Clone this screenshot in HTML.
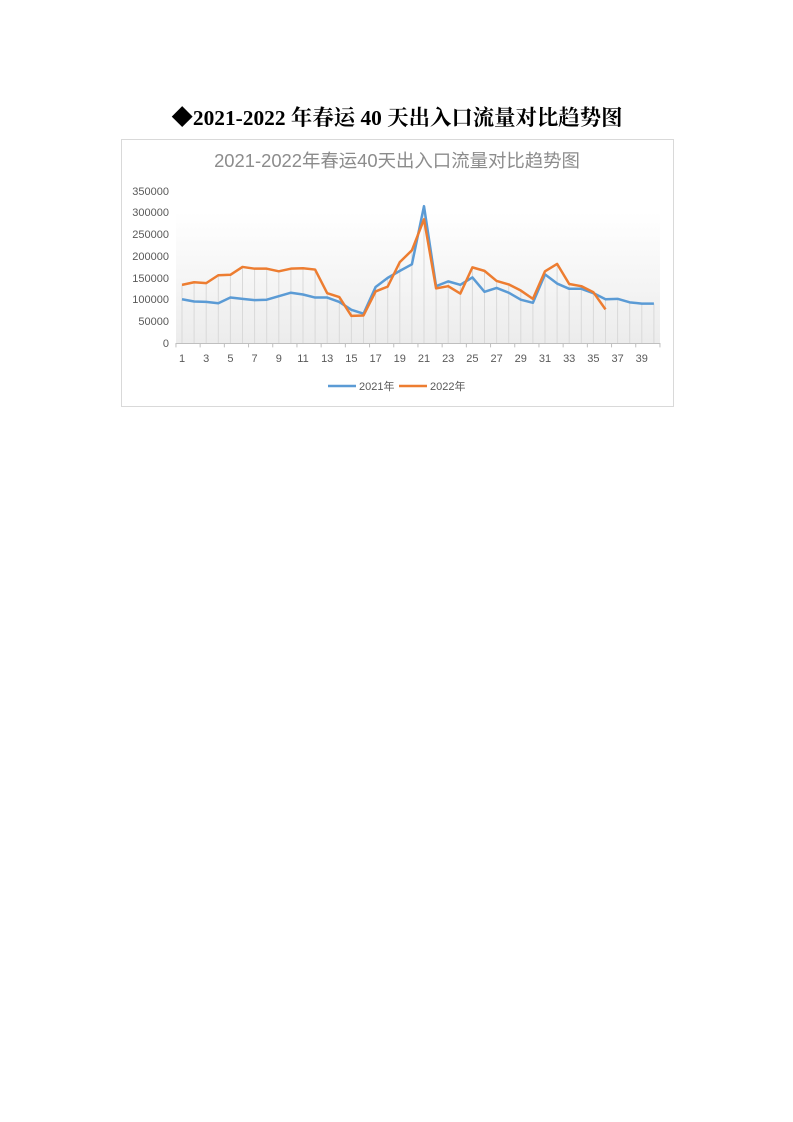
<!DOCTYPE html>
<html><head><meta charset="utf-8"><style>
body{margin:0;background:#fff;width:793px;height:1122px;overflow:hidden;}
</style></head><body>
<svg width="793" height="1122" xmlns="http://www.w3.org/2000/svg" style="position:absolute;left:0;top:0">
<defs><linearGradient id="g" x1="0" y1="0" x2="0" y2="1"><stop offset="0" stop-color="#ffffff"/><stop offset="1" stop-color="#ececec"/></linearGradient></defs>
<text x="397" y="125" text-anchor="middle" font-family="'Liberation Serif','Noto Serif CJK SC',serif" font-weight="bold" font-size="21.4" fill="#000">◆2021-2022 年春运 40 天出入口流量对比趋势图</text>
<rect x="121.5" y="139.5" width="552" height="267" fill="#fff" stroke="#d9d9d9"/>
<text x="397" y="167" text-anchor="middle" font-family="'Liberation Sans','Noto Sans CJK SC',sans-serif" font-size="18.4" fill="#8c8c8c">2021-2022年春运40天出入口流量对比趋势图</text>
<rect x="176" y="212" width="484" height="131" fill="url(#g)"/>
<g font-family="'Liberation Sans',sans-serif" font-size="11" fill="#595959" text-anchor="end">
<text x="169" y="195">350000</text><text x="169" y="216">300000</text><text x="169" y="238">250000</text><text x="169" y="260">200000</text><text x="169" y="282">150000</text><text x="169" y="303">100000</text><text x="169" y="325">50000</text><text x="169" y="347">0</text>
</g>
<g font-family="'Liberation Sans',sans-serif" font-size="11" fill="#595959" text-anchor="middle">
<text x="182" y="362">1</text><text x="206.2" y="362">3</text><text x="230.4" y="362">5</text><text x="254.6" y="362">7</text><text x="278.8" y="362">9</text><text x="303" y="362">11</text><text x="327.2" y="362">13</text><text x="351.4" y="362">15</text><text x="375.6" y="362">17</text><text x="399.8" y="362">19</text><text x="424" y="362">21</text><text x="448.2" y="362">23</text><text x="472.4" y="362">25</text><text x="496.6" y="362">27</text><text x="520.8" y="362">29</text><text x="545" y="362">31</text><text x="569.2" y="362">33</text><text x="593.4" y="362">35</text><text x="617.6" y="362">37</text><text x="641.8" y="362">39</text>
</g>
<line x1="176" y1="343.5" x2="660" y2="343.5" stroke="#bfbfbf"/>
<g transform="translate(182,343) scale(12.1,-0.43714)" fill="none">
<path vector-effect="non-scaling-stroke" stroke="#d9d9d9" stroke-width="1" d="M0,0V133M1,0V139M2,0V137M3,0V155M4,0V156M5,0V174M6,0V170M7,0V170M8,0V164M9,0V170M10,0V171M11,0V168M12,0V114M13,0V105M14,0V76M15,0V67M16,0V128M17,0V149M18,0V185M19,0V212M20,0V313M21,0V130M22,0V141M23,0V133M24,0V173M25,0V165M26,0V142M27,0V134M28,0V120M29,0V101M30,0V164M31,0V181M32,0V135M33,0V130M34,0V116M35,0V100M36,0V101M37,0V93M38,0V90M39,0V90"/>
<path vector-effect="non-scaling-stroke" stroke="#bfbfbf" stroke-width="1" d="M-0.5,0V-10M1.5,0V-10M3.5,0V-10M5.5,0V-10M7.5,0V-10M9.5,0V-10M11.5,0V-10M13.5,0V-10M15.5,0V-10M17.5,0V-10M19.5,0V-10M21.5,0V-10M23.5,0V-10M25.5,0V-10M27.5,0V-10M29.5,0V-10M31.5,0V-10M33.5,0V-10M35.5,0V-10M37.5,0V-10M39.5,0V-10"/>
<polyline vector-effect="non-scaling-stroke" stroke="#5b9bd5" stroke-width="2.5" stroke-linejoin="round" points="0,100 1,95 2,94 3,91 4,104 5,101 6,98 7,99 8,107 9,115 10,111 11,104 12,104 13,94 14,76 15,67 16,128 17,149 18,165 19,180 20,313 21,130 22,141 23,133 24,150 25,117 26,126 27,115 28,99 29,92 30,157 31,136 32,124 33,124 34,114 35,100 36,101 37,93 38,90 39,90"/>
<polyline vector-effect="non-scaling-stroke" stroke="#ed7d31" stroke-width="2.5" stroke-linejoin="round" points="0,133 1,139 2,137 3,155 4,156 5,174 6,170 7,170 8,164 9,170 10,171 11,168 12,114 13,105 14,62 15,63 16,118 17,129 18,185 19,212 20,283 21,125 22,130 23,113 24,173 25,165 26,142 27,134 28,120 29,101 30,164 31,181 32,135 33,130 34,116 35,77"/>
</g>
<line x1="328" y1="386" x2="356" y2="386" stroke="#5b9bd5" stroke-width="2.5"/>
<text x="359" y="390" font-family="'Liberation Sans','Noto Sans CJK SC',sans-serif" font-size="11" fill="#595959">2021年</text>
<line x1="399" y1="386" x2="427" y2="386" stroke="#ed7d31" stroke-width="2.5"/>
<text x="430" y="390" font-family="'Liberation Sans','Noto Sans CJK SC',sans-serif" font-size="11" fill="#595959">2022年</text>
</svg>
</body></html>
